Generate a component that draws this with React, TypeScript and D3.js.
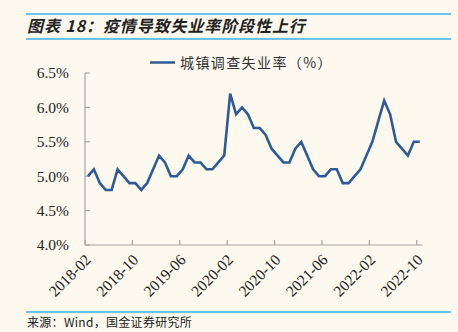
import React from "react";
import * as d3 from "d3";

const months: string[] = (() => {
  const out: string[] = [];
  for (let y = 2018; y <= 2022; y++) {
    for (let m = 1; m <= 12; m++) {
      if (y === 2018 && m < 2) continue;
      if (y === 2022 && m > 10) continue;
      out.push(`${y}-${String(m).padStart(2, "0")}`);
    }
  }
  return out;
})();

const unemployment: number[] = [
  // 2018-02 .. 2018-12
  5.0, 5.1, 4.9, 4.8, 4.8, 5.1, 5.0, 4.9, 4.9, 4.8, 4.9,
  // 2019
  5.1, 5.3, 5.2, 5.0, 5.0, 5.1, 5.3, 5.2, 5.2, 5.1, 5.1, 5.2,
  // 2020
  5.3, 6.2, 5.9, 6.0, 5.9, 5.7, 5.7, 5.6, 5.4, 5.3, 5.2, 5.2,
  // 2021
  5.4, 5.5, 5.3, 5.1, 5.0, 5.0, 5.1, 5.1, 4.9, 4.9, 5.0, 5.1,
  // 2022-01 .. 2022-10
  5.3, 5.5, 5.8, 6.1, 5.9, 5.5, 5.4, 5.3, 5.5, 5.5,
];

const yTicks: number[] = [4.0, 4.5, 5.0, 5.5, 6.0, 6.5];
const xTickLabels: string[] = ["2018-02", "2018-10", "2019-06", "2020-02", "2020-10", "2021-06", "2022-02", "2022-10"];

const title = "图表 18：疫情导致失业率阶段性上行";
const legendLabel = "城镇调查失业率（%）";
const source = "来源：Wind，国金证券研究所";

const W = 458;
const H = 332;
const BG = "#fdf9ef";
const LINE = "#2f5b95";
const AXIS = "#a6a6a6";
const RULE = "#3cb0e4";
const SERIF = "'Liberation Serif', 'Times New Roman', serif";
const CJK = "'Noto Sans CJK SC', sans-serif";

export default function App() {
  const x = d3.scaleBand<string>().domain(months).range([85, 422.7]).padding(0);
  const y = d3.scaleLinear().domain([4.0, 6.5]).range([245, 73]);

  const line = d3
    .line<number>()
    .x((_, i) => (x(months[i]) as number) + x.bandwidth() / 2)
    .y((d) => y(d));

  const [x0, x1] = x.range();
  const [yb, yt] = y.range();

  return (
    <svg
      width={W}
      height={H}
      style={{ position: "fixed", left: 0, top: 0, background: BG }}
    >
      <rect x={0} y={0} width={W} height={H} fill={BG} />
      {/* title rules */}
      <line x1={26} x2={451} y1={14} y2={14} stroke={RULE} strokeWidth={1.6} />
      <line x1={26} x2={451} y1={39} y2={39} stroke={RULE} strokeWidth={1.6} />
      <text
        x={27}
        y={32}
        fontFamily={CJK}
        fontSize={16}
        fontWeight="bold"
        fontStyle="italic"
        fill="#222"
        letterSpacing={0.9}
      >
        {title}
      </text>

      {/* legend */}
      <line x1={150} x2={175} y1={62.5} y2={62.5} stroke={LINE} strokeWidth={2.5} />
      <text x={180} y={67.5} fontFamily={CJK} fontSize={14} fill="#333" letterSpacing={1.4}>
        {legendLabel}
      </text>

      {/* axes */}
      <line x1={x0} x2={x0} y1={yt} y2={yb} stroke={AXIS} strokeWidth={1.2} />
      <line x1={x0} x2={x1} y1={yb} y2={yb} stroke={AXIS} strokeWidth={1.2} />
      {yTicks.map((t) => (
        <g key={t}>
          <line x1={x0} x2={x0 + 5} y1={y(t)} y2={y(t)} stroke={AXIS} strokeWidth={1.2} />
          <text
            x={69}
            y={y(t)}
            dy="0.35em"
            textAnchor="end"
            fontFamily={SERIF}
            fontSize={15.5}
            fill="#222"
          >
            {t.toFixed(1)}%
          </text>
        </g>
      ))}
      {xTickLabels.map((lab) => {
        const tx = x(lab) as number;
        return (
          <g key={lab}>
            <line x1={tx} x2={tx} y1={yb} y2={yb - 5} stroke={AXIS} strokeWidth={1.2} />
            <text
              transform={`translate(${tx + 3},${yb + 12}) rotate(-45)`}
              dy="0.35em"
              textAnchor="end"
              fontFamily={SERIF}
              fontSize={15.5}
              fill="#222"
            >
              {lab}
            </text>
          </g>
        );
      })}

      {/* series */}
      <path
        d={line(unemployment) || ""}
        fill="none"
        stroke={LINE}
        strokeWidth={2.6}
        strokeLinejoin="miter"
      />

      {/* source */}
      <line x1={26} x2={451} y1={312} y2={312} stroke={RULE} strokeWidth={1.6} />
      <text x={27} y={327} fontFamily={CJK} fontSize={12} fill="#222" letterSpacing={0.3}>
        {source}
      </text>
    </svg>
  );
}
